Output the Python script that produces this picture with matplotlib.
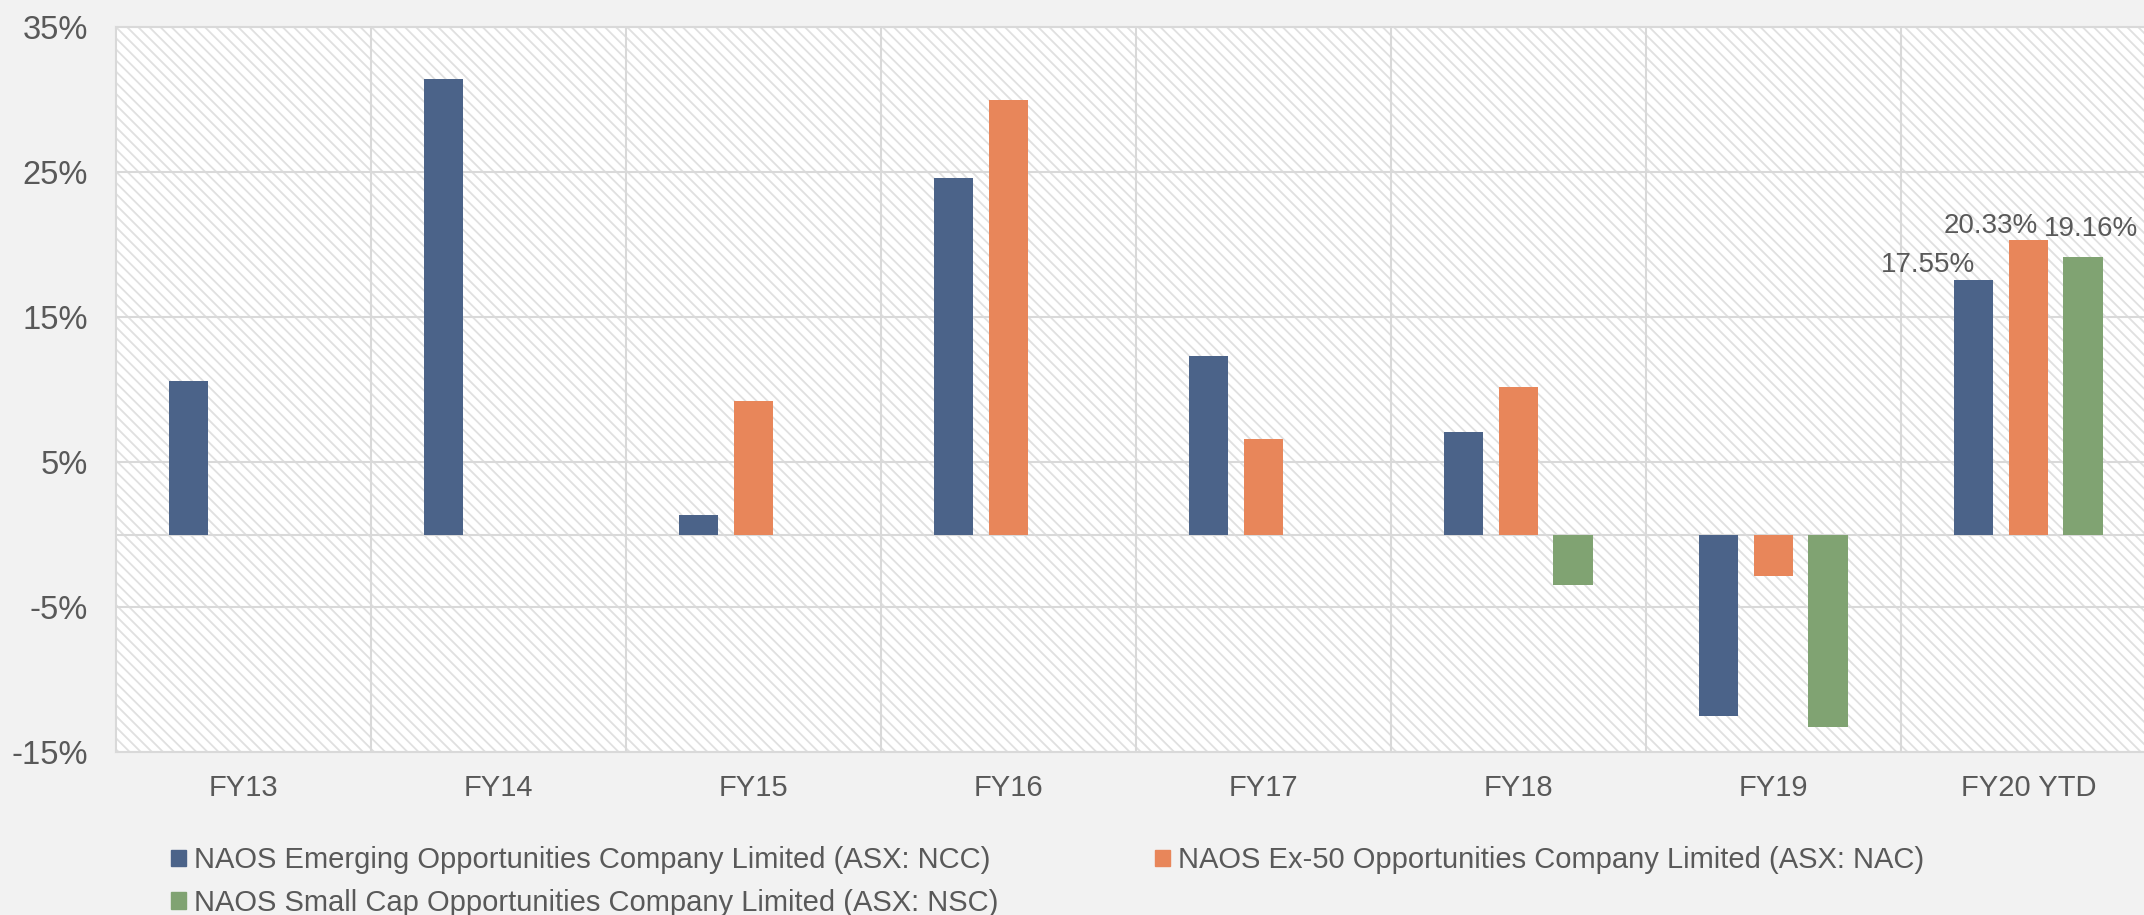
import matplotlib.pyplot as plt
import numpy as np
from matplotlib.patches import Rectangle, Patch

plt.rcParams['font.family'] = ['Liberation Sans Narrow', 'Liberation Sans', 'DejaVu Sans']
plt.rcParams['hatch.linewidth'] = 1.3

categories = ["FY13", "FY14", "FY15", "FY16", "FY17", "FY18", "FY19", "FY20 YTD"]
ncc = [10.6, 31.4, 1.35, 24.6, 12.3, 7.1, -12.5, 17.55]
nac = [np.nan, np.nan, 9.2, 30.0, 6.6, 10.2, -2.85, 20.33]
nsc = [np.nan, np.nan, np.nan, np.nan, np.nan, -3.5, -13.25, 19.16]
series_names = [
    "NAOS Emerging Opportunities Company Limited (ASX: NCC)",
    "NAOS Ex-50 Opportunities Company Limited (ASX: NAC)",
    "NAOS Small Cap Opportunities Company Limited (ASX: NSC)",
]
colors = ["#4b6389", "#e8865a", "#80a372"]
yticks = [-15, -5, 5, 15, 25, 35]

grey = "#595959"
grid = "#d9d9d9"

fig = plt.figure(figsize=(21.44, 9.15), dpi=100, facecolor="#f2f2f2")
ax = fig.add_axes([0.054, 0.178, 0.9515, 0.7925])
ax.set_facecolor("white")
ax.add_patch(Rectangle((0, 0), 1, 1, transform=ax.transAxes, facecolor="white",
                       edgecolor="#e0e0e0", hatch="\\\\\\", linewidth=0, zorder=0))

x = np.arange(len(categories))
w = 0.155
offs = [-0.214, 0, 0.214]
for vals, off, c in zip([ncc, nac, nsc], offs, colors):
    ax.bar(x + off, vals, w, color=c, zorder=3)

# labels for the latest year only
label_shift = [(-33, 6), (-27, 5), (6, 15)]
for vals, off, (dx, dy) in zip([ncc, nac, nsc], offs, label_shift):
    v = vals[-1]
    ax.annotate("{:.2f}%".format(v), (x[-1] + off, v), xytext=(dx, dy),
                textcoords="offset points", ha="center", va="baseline",
                fontsize=20, color=grey, zorder=4)

ax.set_xlim(-0.5, len(categories) - 0.5)
ax.set_ylim(-15, 35)
ax.set_yticks(yticks)
ax.set_yticklabels(["{}%".format(t) for t in yticks])
ax.set_xticks(x)
ax.set_xticklabels(categories)
ax.yaxis.grid(True, color=grid, linewidth=1.5, zorder=1)
ax.axhline(0, color=grid, linewidth=1.5, zorder=1)
for b in np.arange(0.5, len(categories) - 0.5):
    ax.axvline(b, color=grid, linewidth=1.5, zorder=1)
ax.set_axisbelow(True)
for s in ax.spines.values():
    s.set_color(grid)
    s.set_linewidth(1.5)
ax.tick_params(axis="y", length=0, pad=20, labelsize=23.5, labelcolor=grey)
ax.tick_params(axis="x", length=0, pad=16, labelsize=21, labelcolor=grey)

handles = [Patch(color=c) for c in colors]
kw = dict(loc="upper left", frameon=False, fontsize=21, labelcolor=grey,
          handlelength=0.5, handleheight=0.5, handletextpad=0.3,
          borderpad=0, borderaxespad=0, labelspacing=0.5)
fig.legend([handles[0], handles[2]], [series_names[0], series_names[2]],
           bbox_to_anchor=(0.0798, 0.075), **kw)
fig.legend([handles[1]], [series_names[1]], bbox_to_anchor=(0.5387, 0.075), **kw)

fig.savefig("out.png", dpi=100, facecolor=fig.get_facecolor())
